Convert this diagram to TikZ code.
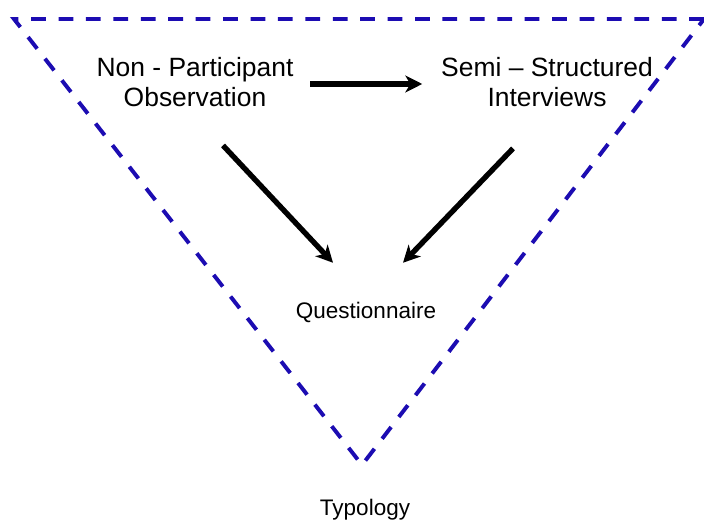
\documentclass[tikz,border=0pt]{standalone}
\usepackage{fontspec}
\setmainfont{Liberation Sans}
\usetikzlibrary{arrows.meta,calc,positioning}
\definecolor{funnel}{RGB}{28,12,178}

\begin{document}
\begin{tikzpicture}[x=0.025cm, y=-0.025cm, >={Stealth[length=12pt,width=12pt,inset=3.5pt]}]

	\useasboundingbox (0,0) rectangle (704,523);

	% funnel
	\draw[funnel, line width=2.8pt, dash pattern=on 10.5pt off 9pt, line join=miter]
		(704,19) -- (14,19) -- (362,465) -- cycle;

	% methods
	\node[align=center, font=\fontsize{18.8}{21}\selectfont] (obs) at (195,82) {Non - Participant\\Observation};
	\node[align=center, font=\fontsize{18.8}{21}\selectfont] (intv) at (547,82) {Semi -- Structured\\Interviews};
	\node[font=\fontsize{16}{19}\selectfont] (quest) at (366,312) {Questionnaire};
	\node[font=\fontsize{16}{19}\selectfont] (typ) at (365,510) {Typology};

	\draw[->, line width=3.8pt] ($(obs.east)+(12,2)$) -- ($(intv.west)+(-14,2)$);
	\draw[->, line width=3.8pt] ($(obs.south)+(28,34)$) -- ($(quest.north)+(-33,-34)$);
	\draw[->, line width=3.8pt] ($(intv.south)+(-34,37)$) -- ($(quest.north)+(37,-34)$);

\end{tikzpicture}
\end{document}
